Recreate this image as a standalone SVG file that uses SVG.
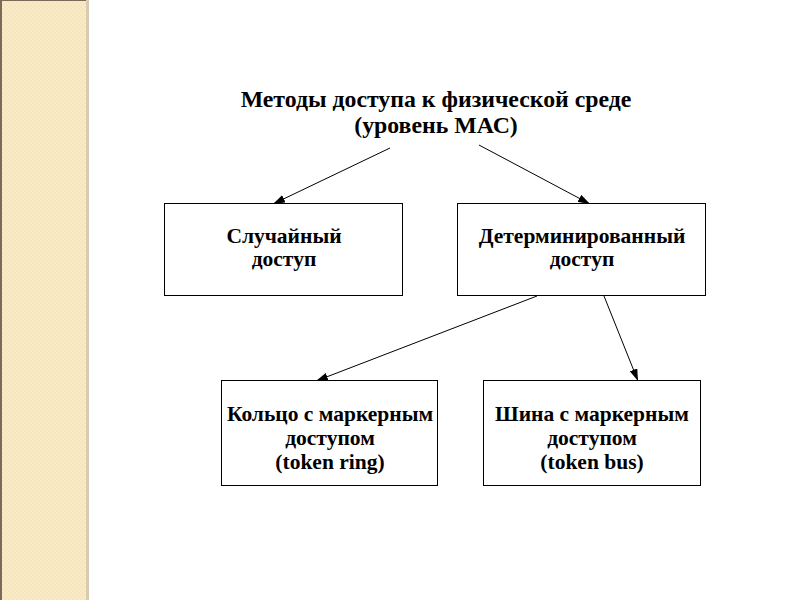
<svg xmlns="http://www.w3.org/2000/svg" width="800" height="600" viewBox="0 0 800 600">
<defs>
<pattern id="dots" width="4" height="4" patternUnits="userSpaceOnUse">
<rect width="4" height="4" fill="#f5e5bf"/>
<rect x="0" y="0" width="2" height="2" fill="#faebc6"/>
<rect x="2" y="2" width="2" height="2" fill="#faebc6"/>
</pattern>
<marker id="ah" markerWidth="12" markerHeight="8" refX="12" refY="4" orient="auto" markerUnits="userSpaceOnUse">
<path d="M0,0 L12,4 L0,8 Z" fill="#000"/>
</marker>
<style>
.box{fill:#fff;stroke:#000;stroke-width:1}
.t{font-family:"Liberation Serif","Times New Roman",serif;font-weight:bold;font-size:21.5px;fill:#000;text-anchor:middle}
.h{font-size:23.8px}
.c{stroke:#000;stroke-width:1;fill:none;marker-end:url(#ah)}
</style>
</defs>
<rect width="800" height="600" fill="#fff"/>
<g id="sidebar">
<rect x="0" y="0" width="88" height="600" fill="url(#dots)"/>
<rect x="0" y="0" width="2" height="600" fill="#7a6b58"/>
<rect x="0" y="0" width="88" height="1" fill="#7a6b58"/>
<rect x="86" y="0" width="3" height="600" fill="#d8ccb0"/>
</g>
<g id="title">
<text class="t h" x="436" y="107">Методы доступа к физической среде</text>
<text class="t h" x="436" y="133">(уровень МАС)</text>
</g>
<g id="connectors">
<line class="c" x1="390" y1="148" x2="273" y2="204"/>
<line class="c" x1="479" y1="145" x2="590" y2="204"/>
<line class="c" x1="537" y1="296" x2="316" y2="381"/>
<line class="c" x1="604" y1="296" x2="638" y2="381"/>
</g>
<g id="random">
<rect class="box" x="164.5" y="203.5" width="238" height="92"/>
<text class="t" x="284" y="243">Случайный</text>
<text class="t" x="284" y="266">доступ</text>
</g>
<g id="determined">
<rect class="box" x="457.5" y="203.5" width="248" height="92"/>
<text class="t" x="582" y="243">Детерминированный</text>
<text class="t" x="582" y="266">доступ</text>
</g>
<g id="tokenring">
<rect class="box" x="221.5" y="380.5" width="216" height="105"/>
<text class="t" x="330" y="421">Кольцо с маркерным</text>
<text class="t" x="330" y="445">доступом</text>
<text class="t" x="330" y="469">(token ring)</text>
</g>
<g id="tokenbus">
<rect class="box" x="483.5" y="380.5" width="217" height="105"/>
<text class="t" x="592" y="421">Шина с маркерным</text>
<text class="t" x="592" y="445">доступом</text>
<text class="t" x="592" y="469">(token bus)</text>
</g>
</svg>
